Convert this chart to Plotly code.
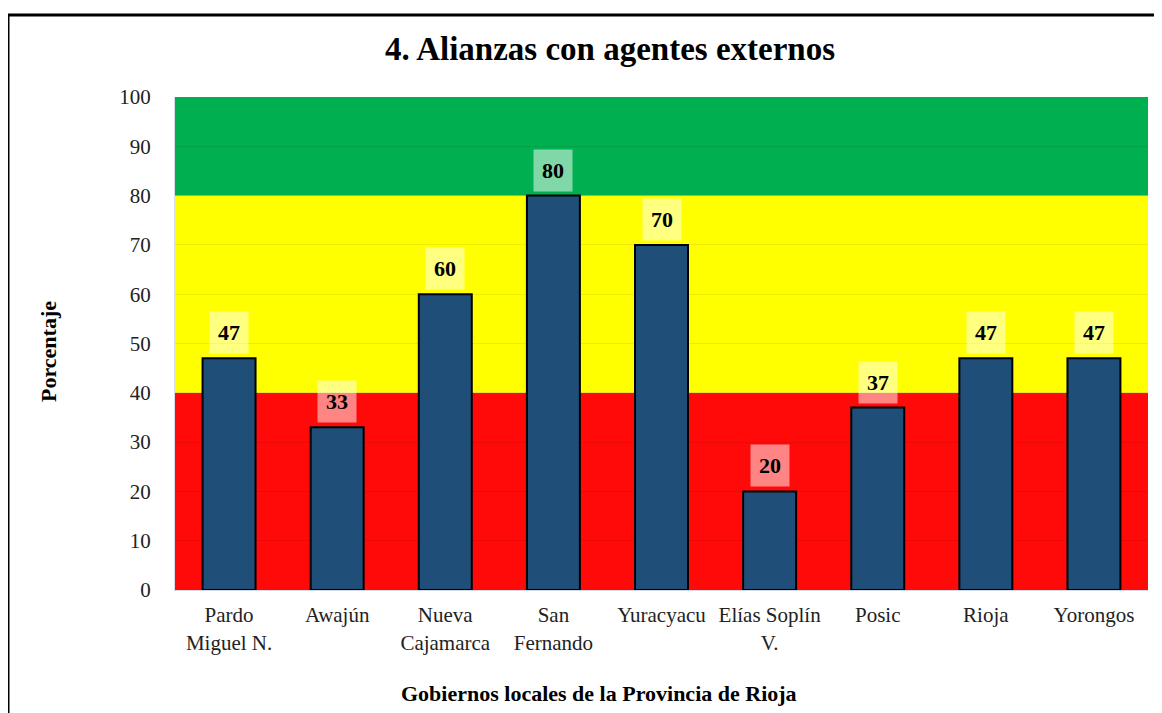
import plotly.graph_objects as go

gobiernos = ["Pardo<br>Miguel N.", "Awajún", "Nueva<br>Cajamarca", "San<br>Fernando", "Yuracyacu",
             "Elías Soplín<br>V.", "Posic", "Rioja", "Yorongos"]
porcentaje = [47, 33, 60, 80, 70, 20, 37, 47, 47]

bandas_lim = [0, 40, 80, 100]
bandas_color = ["#FF0909", "#FFFF00", "#00AF50"]

SERIF = "Liberation Serif, Times New Roman, serif"

# coordenadas de pagina -> papel (area de trazado 175..1148 x 97..590)
def px(xp):
    return (xp - 175) / 973

def py(yp):
    return (590 - yp) / 493

fig = go.Figure()
fig.add_trace(go.Bar(
    x=gobiernos, y=porcentaje,
    marker=dict(color="#1F4E79", line=dict(color="black", width=2)),
    hoverinfo="x+y",
))

# franjas de semaforo
for i, c in enumerate(bandas_color):
    fig.add_shape(type="rect", xref="paper", yref="y", x0=0, x1=1,
                  y0=bandas_lim[i], y1=bandas_lim[i + 1],
                  fillcolor=c, line=dict(width=0), layer="below")

# etiquetas de datos
for g, v in zip(gobiernos, porcentaje):
    fig.add_annotation(x=g, y=v, text="<b>%d</b>" % v, showarrow=False,
                       yanchor="bottom", yshift=4,
                       font=dict(family=SERIF, size=22, color="black"),
                       bgcolor="rgba(255,255,255,0.5)", borderpad=8)

# marco exterior
fig.add_shape(type="rect", xref="paper", yref="paper",
              x0=px(8), x1=px(1180), y0=py(730), y1=py(15),
              line=dict(color="black", width=3), fillcolor="rgba(0,0,0,0)")

fig.add_annotation(xref="paper", yref="paper", x=px(48), y=py(352),
                   xanchor="center", yanchor="middle",
                   text="<b>Porcentaje</b>", textangle=-90, showarrow=False,
                   font=dict(family=SERIF, size=22, color="black"))
fig.add_annotation(xref="paper", yref="paper", x=px(599), y=py(693),
                   xanchor="center", yanchor="middle",
                   text="<b>Gobiernos locales de la Provincia de Rioja</b>", showarrow=False,
                   font=dict(family=SERIF, size=22, color="black"))

fig.update_layout(
    width=1154, height=705,
    margin=dict(l=167, r=14, t=89, b=123),
    paper_bgcolor="white", plot_bgcolor="white",
    title=dict(text="<b>4. Alianzas con agentes externos</b>", x=602 / 1154, xanchor="center",
               y=1 - 40 / 705, yanchor="middle",
               font=dict(family=SERIF, size=33, color="black")),
    bargap=0.51,
    showlegend=False,
    font=dict(family=SERIF, size=21, color="#222"),
    xaxis=dict(showgrid=False, showline=True, linecolor="#D6DCE5", linewidth=1,
               ticks="", tickfont=dict(family=SERIF, size=21, color="#222"),
               ticklabelstandoff=6),
    yaxis=dict(range=[0, 100], dtick=10, showgrid=True, gridcolor="rgba(0,0,0,0.07)",
               showline=True, linecolor="#D6DCE5", linewidth=1, zeroline=False,
               ticks="", ticklabelstandoff=19,
               tickfont=dict(family=SERIF, size=21, color="#222")),
)

fig.write_html("out.html")
